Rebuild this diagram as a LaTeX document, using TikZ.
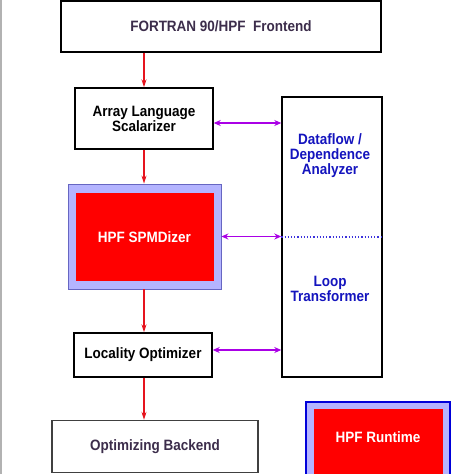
\documentclass[tikz,border=0pt]{standalone}
\usepackage{fontspec}
\setmainfont[FakeStretch=0.9]{Liberation Sans}
\usepackage{xcolor}
\usetikzlibrary{arrows.meta, positioning, calc}

\definecolor{flowred}{RGB}{230,20,30}
\definecolor{linkpurple}{RGB}{170,0,230}
\definecolor{anablue}{RGB}{20,20,190}
\definecolor{dotblue}{RGB}{60,50,220}
\definecolor{lavender}{RGB}{180,180,255}
\definecolor{darktext}{RGB}{60,45,75}

\tikzset{
  stage/.style={draw=black, line width=1.4pt, fill=white, inner sep=0pt,
    font=\fontsize{15}{15}\selectfont\bfseries, align=center},
  hpfbox/.style={fill=red, draw=none, inner sep=0pt, text=white,
    font=\fontsize{15}{15}\selectfont\bfseries},
  flow/.style={->, flowred, line width=1.2pt, >={Stealth[length=8pt,width=5pt]}},
  link/.style={<->, linkpurple, line width=1.4pt, >={Stealth[length=7pt,width=6pt]}},
  anatext/.style={text=anablue, font=\fontsize{15}{15}\selectfont\bfseries, align=center}
}

\begin{document}
\begin{tikzpicture}[x=1pt, y=-1pt]
  \useasboundingbox (0,0) rectangle (474,474);
  \clip (0,0) rectangle (474,474);
  \draw[gray!60, line width=2pt] (1,0) -- (1,474);

  % main pipeline
  \node[stage, text=darktext, minimum width=320pt, minimum height=51pt] (front) at (221,26.5) {FORTRAN 90/HPF\ \ Frontend};
  \node[stage, minimum width=138pt, minimum height=61pt] (scal) at (144,118.5) {Array Language\\Scalarizer};
  \node[fill=lavender, draw=blue!60!black!60, line width=0.8pt, minimum width=153pt, minimum height=105pt] (spmdout) at (144.5,236.5) {};
  \node[hpfbox, minimum width=138pt, minimum height=88pt] (spmd) at (144.5,237) {HPF SPMDizer};
  \node[stage, minimum width=138pt, minimum height=44pt] (local) at (143,355) {Locality Optimizer};
  \node[stage, draw=black!75, text=darktext, minimum width=206pt, minimum height=52pt] (back) at (155,446.5) {Optimizing Backend};

  % analyzer column
  \node[stage, minimum width=100pt, minimum height=280pt] (ana) at (332,237) {};
  \node[anatext] (dflow) at (330,156) {Dataflow /\\Dependence\\Analyzer};
  \node[anatext] (loop) at (330,289) {Loop\\Transformer};
  \draw[dotblue, dotted, line width=1.2pt] (ana.west) -- (ana.east);

  % runtime
  \node[fill=lavender, draw=blue!85!black, line width=2pt, minimum width=144pt, minimum height=84pt] (rtout) at (378,444) {};
  \node[hpfbox, minimum width=129pt, minimum height=75pt] (rt) at (378.5,446.5) {};
  \node[text=white, font=\fontsize{15}{15}\selectfont\bfseries] (rttext) at (378,437) {HPF Runtime};

  % connectors
  \draw[flow] (front.south -| scal.north) -- (scal.north);
  \draw[flow] (scal.south) -- (scal.south |- spmdout.north);
  \draw[flow] (spmdout.south -| scal.south) -- (scal.south |- local.north);
  \draw[flow] (scal.south |- local.south) -- (scal.south |- back.north);
  \draw[link] ($(scal.east)+(0,4.5)$) -- ($(scal.east -| ana.west)+(0,4.5)$);
  \draw[link] (spmdout.east) -- (spmdout.east -| ana.west);
  \draw[link] ($(local.east)+(0,-5)$) -- ($(local.east -| ana.west)+(0,-5)$);
\end{tikzpicture}
\end{document}
